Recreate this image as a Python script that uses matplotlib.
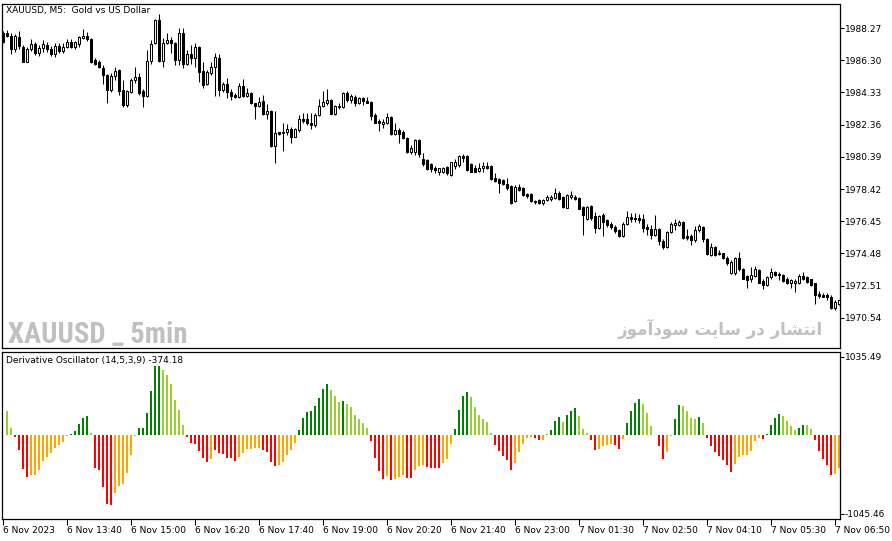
import numpy as np
import matplotlib
matplotlib.use("Agg")
import matplotlib.pyplot as plt
from matplotlib import font_manager

# ---- datos: velas XAUUSD M5 (open, high, low, close) ----
opens = [1987.94, 1987.98, 1987.78, 1986.96, 1987.70, 1987.12, 1986.21, 1986.96, 1987.29, 1986.72,
         1987.02, 1987.23, 1986.96, 1986.66, 1987.17, 1986.88, 1987.08, 1987.39, 1987.08, 1987.29,
         1987.64, 1987.80, 1987.57, 1986.31, 1986.17, 1985.80, 1985.39, 1984.47, 1985.33, 1985.70,
         1984.51, 1983.55, 1984.37, 1985.08, 1985.25, 1984.43, 1984.10, 1986.25, 1987.33, 1988.76,
         1986.27, 1987.33, 1987.53, 1987.37, 1986.31, 1987.98, 1986.06, 1986.68, 1986.41, 1987.08,
         1985.63, 1984.84, 1985.53, 1985.86, 1986.43, 1984.48, 1984.85, 1984.38, 1984.17, 1984.03,
         1984.72, 1984.11, 1984.31, 1983.66, 1983.50, 1983.82, 1983.01, 1983.19, 1981.05, 1981.89,
         1981.83, 1981.93, 1982.07, 1981.62, 1982.03, 1982.68, 1982.68, 1982.48, 1982.31, 1982.95,
         1983.50, 1983.70, 1983.87, 1983.01, 1983.42, 1983.42, 1984.27, 1983.87, 1984.07, 1983.70,
         1983.97, 1983.82, 1983.76, 1982.95, 1982.60, 1982.40, 1982.48, 1982.80, 1981.78, 1982.03,
         1981.93, 1981.52, 1980.70, 1980.70, 1981.42, 1980.25, 1980.19, 1979.93, 1979.72, 1979.48,
         1979.48, 1979.78, 1979.31, 1979.84, 1979.89, 1980.46, 1980.46, 1979.93, 1979.68, 1979.52,
         1979.68, 1979.84, 1979.84, 1979.07, 1979.03, 1978.97, 1978.76, 1978.62, 1977.68, 1978.56,
         1978.50, 1978.09, 1978.09, 1977.68, 1977.74, 1977.54, 1977.74, 1977.84, 1977.89, 1978.21,
         1977.95, 1977.27, 1977.95, 1977.93, 1977.89, 1977.33, 1976.62, 1977.40, 1976.78, 1976.05,
         1976.86, 1976.52, 1976.31, 1976.11, 1975.91, 1975.56, 1976.31, 1976.69, 1976.63, 1976.63,
         1976.57, 1976.08, 1975.95, 1975.61, 1975.95, 1975.26, 1974.85, 1975.81, 1976.22, 1976.22,
         1976.42, 1975.55, 1975.55, 1975.30, 1975.91, 1976.12, 1975.34, 1974.38, 1974.85, 1974.53,
         1974.48, 1974.18, 1973.30, 1973.30, 1974.18, 1973.51, 1973.10, 1972.89, 1973.10, 1973.46,
         1972.81, 1972.55, 1973.02, 1973.36, 1973.22, 1973.16, 1972.95, 1972.65, 1972.65, 1972.69,
         1973.10, 1973.02, 1972.89, 1972.65, 1971.99, 1971.95, 1971.93, 1971.83, 1971.12, 1971.42]
highs = [1988.10, 1988.15, 1987.98, 1987.90, 1988.10, 1987.23, 1987.08, 1987.57, 1987.39, 1987.23,
         1987.53, 1987.43, 1987.17, 1987.33, 1987.37, 1987.33, 1987.57, 1987.57, 1987.49, 1987.78,
         1988.19, 1988.04, 1987.64, 1986.41, 1986.31, 1986.00, 1985.43, 1985.49, 1985.90, 1985.74,
         1985.12, 1984.51, 1985.19, 1985.86, 1985.53, 1984.57, 1986.92, 1987.53, 1988.80, 1989.13,
         1987.64, 1987.94, 1987.74, 1987.43, 1988.25, 1988.25, 1986.92, 1987.23, 1987.33, 1987.17,
         1986.21, 1985.70, 1986.21, 1986.76, 1986.68, 1984.99, 1985.20, 1984.52, 1984.27, 1984.89,
         1985.15, 1984.58, 1984.38, 1983.70, 1984.03, 1984.17, 1983.62, 1983.25, 1983.21, 1981.93,
         1982.48, 1982.40, 1982.23, 1982.17, 1982.95, 1983.05, 1983.09, 1983.09, 1983.05, 1983.91,
         1984.44, 1984.52, 1983.91, 1983.56, 1983.70, 1984.38, 1984.44, 1984.23, 1984.17, 1984.03,
         1984.03, 1984.03, 1983.82, 1983.05, 1982.68, 1982.68, 1983.05, 1982.89, 1982.48, 1982.13,
         1982.03, 1981.58, 1981.11, 1981.46, 1981.46, 1980.60, 1980.29, 1979.99, 1979.84, 1979.72,
         1979.78, 1979.84, 1980.09, 1980.29, 1980.50, 1980.54, 1980.50, 1979.99, 1979.89, 1979.99,
         1980.05, 1980.05, 1979.89, 1979.38, 1979.11, 1979.03, 1979.07, 1978.70, 1978.66, 1978.76,
         1978.56, 1978.21, 1978.15, 1977.74, 1977.84, 1977.84, 1978.05, 1978.05, 1978.46, 1978.29,
         1978.01, 1978.09, 1978.29, 1978.05, 1977.95, 1977.40, 1977.40, 1977.44, 1977.03, 1976.86,
         1976.93, 1976.62, 1976.42, 1976.21, 1975.97, 1976.42, 1977.07, 1976.97, 1976.93, 1976.89,
         1976.89, 1976.28, 1976.22, 1976.83, 1976.02, 1975.34, 1975.87, 1976.42, 1976.57, 1976.53,
         1976.48, 1975.95, 1975.67, 1976.16, 1976.28, 1976.16, 1975.40, 1975.14, 1974.93, 1974.69,
         1974.53, 1974.32, 1974.08, 1974.24, 1974.59, 1973.57, 1973.16, 1973.67, 1973.71, 1973.51,
         1972.89, 1973.10, 1973.57, 1973.42, 1973.36, 1973.22, 1973.02, 1972.95, 1972.89, 1973.22,
         1973.36, 1973.10, 1972.95, 1972.69, 1972.20, 1972.08, 1972.04, 1971.93, 1971.63, 1971.63]
lows = [1987.33, 1987.70, 1986.68, 1986.82, 1986.96, 1986.21, 1986.21, 1986.88, 1986.61, 1986.55,
        1986.82, 1986.82, 1986.57, 1986.51, 1986.72, 1986.76, 1987.02, 1987.02, 1986.96, 1987.12,
        1987.57, 1987.49, 1986.15, 1986.00, 1985.80, 1984.84, 1983.66, 1984.37, 1985.08, 1984.17,
        1983.41, 1983.45, 1984.27, 1984.88, 1984.17, 1983.41, 1984.06, 1986.10, 1987.27, 1986.21,
        1985.86, 1987.29, 1986.72, 1986.00, 1986.00, 1985.80, 1986.00, 1986.10, 1985.90, 1984.98,
        1984.63, 1984.78, 1985.39, 1984.10, 1984.11, 1984.38, 1983.97, 1983.87, 1983.97, 1983.97,
        1984.03, 1984.07, 1983.62, 1982.68, 1983.42, 1982.95, 1982.68, 1981.01, 1979.99, 1981.72,
        1980.76, 1981.72, 1981.21, 1981.58, 1981.93, 1982.44, 1982.34, 1982.07, 1982.23, 1982.89,
        1983.46, 1983.56, 1983.01, 1982.95, 1983.29, 1983.36, 1983.76, 1983.70, 1983.50, 1983.62,
        1983.56, 1983.66, 1982.64, 1982.44, 1981.99, 1982.13, 1982.40, 1981.72, 1981.72, 1981.25,
        1981.46, 1980.60, 1980.56, 1980.50, 1980.36, 1979.84, 1979.58, 1979.44, 1979.38, 1979.31,
        1979.38, 1979.31, 1979.23, 1979.64, 1979.78, 1980.09, 1979.52, 1979.44, 1979.44, 1979.44,
        1979.48, 1979.64, 1978.97, 1978.86, 1978.21, 1978.70, 1978.35, 1977.48, 1977.60, 1978.29,
        1978.01, 1977.89, 1977.64, 1977.48, 1977.48, 1977.44, 1977.68, 1977.68, 1977.84, 1977.74,
        1977.27, 1977.27, 1977.84, 1977.74, 1977.19, 1975.60, 1976.52, 1976.52, 1975.76, 1975.97,
        1975.56, 1976.11, 1975.97, 1975.76, 1975.50, 1975.50, 1976.25, 1976.42, 1976.42, 1976.36,
        1975.81, 1975.61, 1975.34, 1975.55, 1975.00, 1974.73, 1974.79, 1975.75, 1975.91, 1976.16,
        1975.34, 1975.30, 1975.00, 1975.20, 1975.81, 1975.20, 1974.38, 1974.32, 1974.32, 1974.38,
        1974.12, 1973.77, 1973.22, 1973.16, 1973.42, 1972.89, 1972.34, 1972.75, 1973.02, 1972.65,
        1972.28, 1972.48, 1972.95, 1973.10, 1972.85, 1972.75, 1972.61, 1972.34, 1972.14, 1972.61,
        1972.85, 1972.69, 1972.48, 1971.42, 1971.73, 1971.79, 1971.63, 1971.06, 1971.02, 1971.32]
closes = [1987.39, 1987.78, 1986.96, 1987.78, 1987.17, 1986.21, 1986.96, 1987.29, 1986.72, 1987.02,
          1987.29, 1986.96, 1986.66, 1987.17, 1986.88, 1987.12, 1987.39, 1987.08, 1987.39, 1987.70,
          1987.80, 1987.57, 1986.21, 1986.10, 1985.90, 1985.39, 1984.47, 1985.33, 1985.66, 1984.43,
          1983.55, 1984.41, 1985.08, 1985.25, 1984.27, 1984.10, 1986.25, 1987.29, 1988.76, 1986.27,
          1987.37, 1987.53, 1987.33, 1986.31, 1987.98, 1986.06, 1986.68, 1986.41, 1987.08, 1985.59,
          1984.78, 1985.59, 1985.90, 1986.51, 1984.48, 1984.85, 1984.38, 1984.11, 1984.03, 1984.72,
          1984.11, 1984.31, 1983.66, 1983.50, 1983.76, 1983.01, 1983.19, 1981.05, 1981.87, 1981.78,
          1981.93, 1982.07, 1981.62, 1982.07, 1982.68, 1982.60, 1982.44, 1982.31, 1982.95, 1983.50,
          1983.76, 1983.87, 1983.01, 1983.50, 1983.50, 1984.31, 1983.87, 1984.11, 1983.70, 1983.97,
          1983.82, 1983.70, 1982.89, 1982.48, 1982.44, 1982.54, 1982.80, 1981.78, 1982.03, 1981.78,
          1981.52, 1980.70, 1980.91, 1981.42, 1980.56, 1979.93, 1979.64, 1979.64, 1979.56, 1979.68,
          1979.72, 1979.38, 1980.05, 1980.09, 1980.46, 1980.33, 1979.58, 1979.48, 1979.48, 1979.72,
          1979.84, 1979.72, 1979.03, 1978.91, 1978.82, 1978.76, 1978.46, 1977.54, 1978.56, 1978.35,
          1978.05, 1978.01, 1977.68, 1977.60, 1977.54, 1977.74, 1977.95, 1977.95, 1978.15, 1977.80,
          1977.33, 1978.05, 1978.05, 1977.84, 1977.23, 1976.82, 1977.33, 1976.66, 1976.05, 1976.78,
          1976.38, 1976.21, 1976.11, 1975.85, 1975.56, 1976.31, 1976.72, 1976.57, 1976.57, 1976.53,
          1976.02, 1975.95, 1975.61, 1975.95, 1975.26, 1974.89, 1975.81, 1976.28, 1976.32, 1976.42,
          1975.40, 1975.40, 1975.30, 1975.91, 1976.16, 1975.34, 1974.44, 1974.89, 1974.38, 1974.42,
          1974.18, 1973.87, 1973.97, 1974.18, 1973.51, 1972.95, 1972.85, 1973.16, 1973.51, 1972.69,
          1972.55, 1973.02, 1973.36, 1973.16, 1973.16, 1972.81, 1972.69, 1972.85, 1972.81, 1973.10,
          1972.95, 1972.75, 1972.55, 1971.93, 1971.87, 1971.83, 1971.79, 1971.12, 1971.53, 1971.63]

# ---- datos: Derivative Oscillator (histograma) ----
osc = [np.nan, 318, 97, -27, -199, -451, -553, -530, -530, -464,
       -340, -287, -243, -177, -133, -88, -13, 18, 57, 146,
       230, 252, 27, -442, -464, -685, -915, -928, -765, -676,
       -650, -500, -265, -13, 97, 97, 296, 583, 919, 919,
       862, 796, 676, 464, 332, 133, -22, -110, -119, -208,
       -309, -354, -323, -199, -243, -256, -309, -309, -340, -287,
       -243, -190, -190, -177, -177, -199, -221, -354, -411, -398,
       -354, -265, -199, -102, 66, 230, 309, 323, 389, 495,
       610, 676, 597, 522, 442, 451, 415, 376, 265, 212,
       164, 97, -75, -301, -473, -579, -544, -592, -579, -553,
       -530, -566, -566, -464, -407, -398, -420, -433, -433, -433,
       -367, -318, -115, 80, 332, 517, 570, 504, 371, 265,
       208, 172, 27, -133, -208, -274, -327, -460, -367, -221,
       -115, -35, -22, -35, -62, -62, 8, 66, 186, 239,
       172, 265, 318, 358, 252, 80, 27, -62, -194, -181,
       -141, -128, -115, -128, -181, -49, 159, 318, 424, 477,
       411, 292, 119, 5, -141, -314, -221, -9, 212, 398,
       385, 318, 225, 212, 239, 159, -35, -141, -221, -274,
       -327, -393, -486, -380, -287, -261, -261, -208, -75, -35,
       -49, 8, 133, 225, 278, 252, 186, 119, 66, 93,
       133, 133, 80, -62, -208, -314, -393, -526, -513, -433]
# estado de cada barra: G sube(+), Y baja(+), R baja(-), O sube(-)
osc_state = ("YYYRRRROOO" "OOOOOOOGGG" "GGYRRRRROO" "OOOOGGGGGG" "YYYYYYRRRR"
             "RRORRRRRRO" "OOOOORRRRO" "OOOOGGGGGG" "GGYYYGYYYY" "YYRRRROROO"
             "ORROOORRRR" "OOOGGGGYYY" "YYYRRRRROO" "OOORROYGGG" "YGGGYYYRRO"
             "OOORROGGGG" "YYYYRROOGG" "YYYYGYRRRR" "RRROOOOOOO" "RGGGGYYYYG"
             "GYYRRRRROO")

price_ticks = [1988.27, 1986.30, 1984.33, 1982.36, 1980.39, 1978.42, 1976.45, 1974.48, 1972.51, 1970.54]
osc_ticks = [1035.49, -1045.46]
time_labels = ["6 Nov 2023", "6 Nov 13:40", "6 Nov 15:00", "6 Nov 16:20", "6 Nov 17:40",
               "6 Nov 19:00", "6 Nov 20:20", "6 Nov 21:40", "6 Nov 23:00", "7 Nov 01:30",
               "7 Nov 02:50", "7 Nov 04:10", "7 Nov 05:30", "7 Nov 06:50"]
time_idx = [16 * k for k in range(len(time_labels))]

# ---- fuente estrecha para la marca de agua (si existe) ----
nombres = {f.name for f in font_manager.fontManager.ttflist}
narrow = "DejaVu Sans"
for cand in ["Liberation Sans Narrow", "Roboto Condensed", "DejaVu Sans Condensed",
             "Noto Sans Condensed", "Open Sans Condensed"]:
    if cand in nombres:
        narrow = cand
        break

# ---- figura ----
W, H = 892, 541
fig = plt.figure(figsize=(W / 100, H / 100), dpi=100)
fig.patch.set_facecolor("white")

def frac(x0, y0, x1, y1):
    return [x0 / W, 1 - y1 / H, (x1 - x0) / W, (y1 - y0) / H]

ax = fig.add_axes(frac(1.5, 4, 839.5, 348))
ax2 = fig.add_axes(frac(1.5, 352, 839.5, 519))

o = np.array(opens); h = np.array(highs); l = np.array(lows); c = np.array(closes)
x = np.arange(len(o))
up = c >= o

ax.vlines(x, l, h, color="black", linewidth=0.75)
ax.bar(x[up], c[up] - o[up], bottom=o[up], width=0.5, facecolor="white",
       edgecolor="black", linewidth=0.75, zorder=3)
ax.bar(x[~up], c[~up] - o[~up], bottom=o[~up], width=0.5, facecolor="black",
       edgecolor="black", linewidth=0.75, zorder=3)

ax.set_xlim(-0.3, 209.2)
ax.set_ylim(1968.70, 1989.74)
ax.set_xticks([])
ax.yaxis.tick_right()
ax.set_yticks(price_ticks, [f"{v:.2f}" for v in price_ticks])
ax.tick_params(axis="y", direction="out", length=3, width=0.75, labelsize=6.5, pad=1)

ax.text(4 / 838, 1 - 6 / 344, "XAUUSD, M5:  Gold vs US Dollar", transform=ax.transAxes,
        fontsize=6.5, va="center", ha="left")
wm = ax.text(7 / 838, 5 / 344, "XAUUSD _ 5min", transform=ax.transAxes, fontsize=26,
             fontweight="bold", family=[narrow, "DejaVu Sans"], color="#c0c0c0",
             va="baseline", ha="left")
# ajustar tamaño para que ocupe ~180 px de ancho como en el original
fig.canvas.draw()
ancho = wm.get_window_extent().width
if ancho > 185:
    wm.set_fontsize(26 * 180 / ancho)

# "انتشار در سایت سودآموز" en formas de presentación (orden visual)
fa_txt = ("\uFEAF\uFEEE\uFEE3\uFE81\uFEA9\uFEEE\uFEB3 \uFE96\uFBFE\uFE8E\uFEB3 "
          "\uFEAD\uFEA9 \uFEAD\uFE8E\uFEB8\uFE98\uFEE7\uFE8D")
ax.text(821.5 / 838, 19 / 344, fa_txt, transform=ax.transAxes, fontsize=12,
        fontweight="bold", family=["DejaVu Sans"], color="#c0c0c0",
        va="center", ha="right")

colmap = {"G": "#008000", "Y": "#9acd32", "R": "#ff0000", "O": "#ffa500"}
ax2.bar(x, osc, width=0.5, color=[colmap[s] for s in osc_state], linewidth=0)
ax2.set_xlim(-0.3, 209.2)
ax2.set_ylim(-1114, 1100)
ax2.yaxis.tick_right()
ax2.set_yticks(osc_ticks, [f"{v:.2f}" for v in osc_ticks])
ax2.tick_params(axis="y", direction="out", length=3, width=0.75, labelsize=6.5, pad=1)
ax2.set_xticks(time_idx, time_labels)
ax2.tick_params(axis="x", direction="out", length=4, width=0.75, labelsize=6.5, pad=1)
for t in ax2.get_xticklabels():
    t.set_horizontalalignment("left")
ax2.text(4 / 838, 1 - 8 / 167, "Derivative Oscillator (14,5,3,9) -374.18",
         transform=ax2.transAxes, fontsize=6.5, va="center", ha="left")

for a in (ax, ax2):
    for s in a.spines.values():
        s.set_linewidth(0.9)
        s.set_color("black")

fig.savefig("out.png", dpi=100)
